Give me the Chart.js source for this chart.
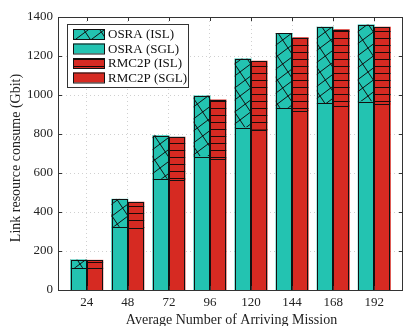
<!DOCTYPE html>
<html>
<head>
<meta charset="utf-8">
<script src="https://cdn.jsdelivr.net/npm/chart.js@4"></script>
<style>
  html, body { margin: 0; padding: 0; background: #fff; }
  #wrap { width: 404px; height: 326px; }
</style>
</head>
<body>
<div id="wrap"><canvas id="myChart"></canvas></div>
<script>
// values (Gbit)
const categories = ['24', '48', '72', '96', '120', '144', '168', '192'];
const osraSGL = [111, 322, 568, 684, 832, 932, 957, 966];
const osraISL = [43, 143, 223, 311, 353, 384, 390, 393];
const rmcSGL = [111, 320, 566, 672, 820, 920, 944, 954];
const rmcISL = [41, 130, 217, 302, 353, 374, 391, 393];
const yTicks = [0, 200, 400, 600, 800, 1000, 1200, 1400];

const teal = '#23c3b1';
const red = '#d62a22';
const serif = "'Liberation Serif', 'DejaVu Serif', serif";

function crossPattern() {
    const c = document.createElement('canvas');
    c.width = 16; c.height = 24;
    const g = c.getContext('2d');
    g.fillStyle = teal;
    g.fillRect(0, 0, 16, 24);
    g.strokeStyle = '#111';
    g.lineWidth = 1;
    for (let dx = -16; dx <= 16; dx += 16) {
        for (let dy = -24; dy <= 24; dy += 12) {
            // steep, going down to the right
            if (dy % 24 === 0) {
                g.beginPath(); g.moveTo(dx, dy); g.lineTo(dx + 16, dy + 24); g.stroke();
            }
            // shallow, going up to the right
            g.beginPath(); g.moveTo(dx, dy + 12); g.lineTo(dx + 16, dy); g.stroke();
        }
    }
    return g.createPattern(c, 'repeat');
}

function linePattern() {
    const c = document.createElement('canvas');
    c.width = 4; c.height = 7;
    const g = c.getContext('2d');
    g.fillStyle = red;
    g.fillRect(0, 0, 4, 7);
    g.fillStyle = '#1a0a08';
    g.fillRect(0, 3, 4, 1);
    return g.createPattern(c, 'repeat');
}

const osraHatch = crossPattern();
const rmcHatch = linePattern();

function pts(arr) {
    return arr.map((v, i) => ({ x: i + 1, y: v }));
}

const legendItems = [
    { text: 'OSRA (ISL)', fill: osraHatch },
    { text: 'OSRA (SGL)', fill: teal },
    { text: 'RMC2P (ISL)', fill: rmcHatch },
    { text: 'RMC2P (SGL)', fill: red }
];

// crisp black outlines round every bar segment
const outlines = {
    id: 'outlines',
    afterDatasetsDraw(chart) {
        const ctx = chart.ctx;
        ctx.save();
        ctx.strokeStyle = '#111';
        ctx.lineWidth = 1;
        chart.data.datasets.forEach((d, di) => {
            chart.getDatasetMeta(di).data.forEach(el => {
                const p = el.getProps(['x', 'y', 'base', 'width'], true);
                const l = Math.round(p.x - p.width / 2);
                const r = Math.round(p.x + p.width / 2);
                const t = Math.round(Math.min(p.y, p.base));
                const b = Math.round(Math.max(p.y, p.base));
                ctx.strokeRect(l + 0.5, t + 0.5, r - l - 1, b - t);
            });
        });
        ctx.restore();
    }
};

const decor = {
    id: 'decor',
    afterDraw(chart) {
        const ctx = chart.ctx;
        const a = chart.chartArea;
        const xs = chart.scales.x, ys = chart.scales.y;
        ctx.save();
        // frame
        ctx.strokeStyle = '#333';
        ctx.lineWidth = 1;
        ctx.strokeRect(a.left + 0.5, a.top + 0.5, a.right - a.left - 1, a.bottom - a.top);
        // inward ticks
        ctx.beginPath();
        yTicks.forEach(v => {
            const py = Math.round(ys.getPixelForValue(v)) + 0.5;
            ctx.moveTo(a.left, py); ctx.lineTo(a.left + 4, py);
            ctx.moveTo(a.right, py); ctx.lineTo(a.right - 4, py);
        });
        categories.forEach((c, i) => {
            const px = Math.round(xs.getPixelForValue(i + 1)) + 0.5;
            ctx.moveTo(px, a.top); ctx.lineTo(px, a.top + 4);
            ctx.moveTo(px, a.bottom); ctx.lineTo(px, a.bottom - 4);
        });
        ctx.stroke();

        // legend box
        const lx = 67, ly = 24, lw = 121, lh = 63;
        ctx.fillStyle = '#fff';
        ctx.fillRect(lx, ly, lw, lh);
        ctx.strokeStyle = '#333';
        ctx.strokeRect(lx + 0.5, ly + 0.5, lw, lh);
        ctx.font = '13px ' + serif;
        ctx.textBaseline = 'middle';
        legendItems.forEach((it, i) => {
            const cy = 34 + i * 14.5;
            ctx.fillStyle = it.fill;
            ctx.fillRect(73, cy - 5, 32, 10);
            ctx.strokeStyle = '#111';
            ctx.strokeRect(73.5, cy - 5 + 0.5, 31, 10);
            ctx.fillStyle = '#111';
            ctx.fillText(it.text, 108, cy + 1);
        });

        // axis titles
        ctx.fillStyle = '#222';
        ctx.font = '14px ' + serif;
        ctx.textAlign = 'center';
        ctx.textBaseline = 'middle';
        ctx.fillText('Average Number of Arriving Mission', (a.left + a.right) / 2 + 1, 320);
        ctx.translate(16, 158);
        ctx.rotate(-Math.PI / 2);
        ctx.fillText('Link resource consume (Gbit)', 0, 0);
        ctx.restore();
    }
};

const ctx = document.getElementById('myChart').getContext('2d');
const myChart = new Chart(ctx, {
    type: 'bar',
    data: {
        datasets: [
            { label: 'OSRA (SGL)', data: pts(osraSGL), stack: 'osra', backgroundColor: teal },
            { label: 'OSRA (ISL)', data: pts(osraISL), stack: 'osra', backgroundColor: osraHatch },
            { label: 'RMC2P (SGL)', data: pts(rmcSGL), stack: 'rmc', backgroundColor: red },
            { label: 'RMC2P (ISL)', data: pts(rmcISL), stack: 'rmc', backgroundColor: rmcHatch }
        ].map(d => Object.assign(d, {
            borderWidth: 0,
            inflateAmount: 0.5,
            categoryPercentage: 0.78,
            barPercentage: 1
        }))
    },
    options: {
        responsive: true,
        maintainAspectRatio: false,
        animation: false,
        layout: { padding: { top: 17, right: 1, left: 0, bottom: 0 } },
        plugins: { legend: { display: false }, tooltip: { enabled: false } },
        scales: {
            x: {
                type: 'linear',
                stacked: true,
                offset: false,
                min: 0.3,
                max: 8.7,
                afterBuildTicks: s => { s.ticks = categories.map((c, i) => ({ value: i + 1 })); },
                afterFit: s => { s.height = 36; },
                ticks: {
                    callback: v => categories[v - 1],
                    font: { family: serif, size: 13 },
                    color: '#222',
                    padding: 5,
                    maxRotation: 0,
                    autoSkip: false
                },
                grid: { color: '#d0d0d0', drawTicks: false, offset: false },
                border: { display: false, dash: [1, 3] }
            },
            y: {
                stacked: true,
                min: 0,
                max: 1400,
                afterBuildTicks: s => { s.ticks = yTicks.map(v => ({ value: v })); },
                afterFit: s => { s.width = 58; },
                ticks: {
                    callback: v => String(v),
                    font: { family: serif, size: 13 },
                    color: '#222',
                    padding: 5
                },
                grid: {
                    color: c => (c.tick && (c.tick.value === 0 || c.tick.value === 1400)) ? 'rgba(0,0,0,0)' : '#d0d0d0',
                    drawTicks: false
                },
                border: { display: false, dash: [1, 3] }
            }
        }
    },
    plugins: [outlines, decor]
});
</script>
</body>
</html>
